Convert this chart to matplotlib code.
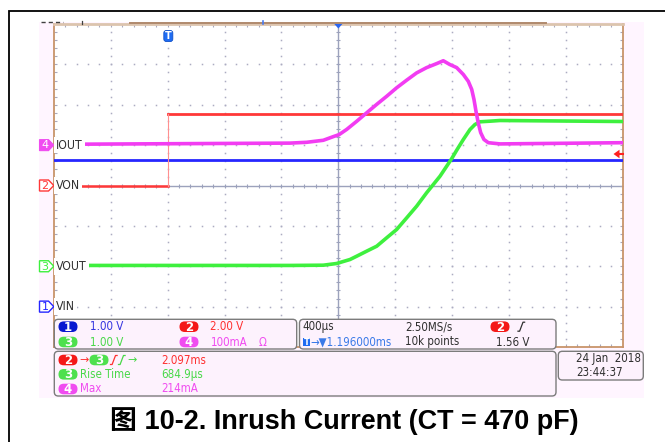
import numpy as np
import matplotlib
matplotlib.use("Agg")
import matplotlib.pyplot as plt
from matplotlib.patches import FancyBboxPatch, Rectangle, Polygon
from matplotlib import font_manager

W, H = 665, 442

# ---------------- scope settings ----------------
time_per_div_ms = 0.4
center_delay_ms = 1.196
n_xdiv, n_ydiv = 10, 8

vin_scale, vin_gnd = 1.0, -3.0      # V/div, ground marker (div)
von_scale, von_gnd = 2.0, 0.0
vout_scale, vout_gnd = 1.0, -2.0
iout_scale, iout_gnd = 100.0, 1.0   # mA/div
trig_level_v = 1.56

# ---------------- waveforms (time in ms from trigger) ----------------
vin_t = [-0.804, 3.196]
vin_v = [3.62, 3.62]

von_edge_ms = 0.0
von_low_v = 0.0
von_high_v = 3.56

vout_t = [-0.804, 0.856, 1.090, 1.184, 1.231, 1.278, 1.325, 1.395, 1.466,
          1.536, 1.606, 1.677, 1.747, 1.817, 1.864, 1.911, 1.958, 1.993,
          2.028, 2.075, 2.122, 2.157, 2.192, 2.263, 2.333, 3.196]
vout_v = [0.02, 0.02, 0.026, 0.068, 0.118, 0.167, 0.249, 0.373, 0.497,
          0.705, 0.910, 1.20, 1.489, 1.82, 2.025, 2.23, 2.478, 2.664,
          2.872, 3.139, 3.387, 3.511, 3.578, 3.593, 3.61, 3.585]

iout_t = [-0.804, 0.856, 0.973, 1.090, 1.160, 1.201, 1.255, 1.325, 1.395,
          1.466, 1.536, 1.606, 1.677, 1.747, 1.817, 1.888, 1.934, 1.978,
          2.028, 2.075, 2.110, 2.134, 2.150, 2.164, 2.180, 2.197, 2.220,
          2.251, 2.333, 3.196]
iout_ma = [2, 5, 7, 12, 21, 26, 39, 59, 80, 101, 121, 142, 161, 179, 192,
           202, 209, 200, 192, 175, 158, 138, 113, 84, 55, 31, 14, 6, 3, 6]

# ---------------- readout text ----------------
ch_names = {1: "VIN", 2: "VON", 3: "VOUT", 4: "IOUT"}
scale_text = {1: "1.00 V", 2: "2.00 V", 3: "1.00 V", 4: "100mA"}
horiz_scale = "400µs"
sample_rate = "2.50MS/s"
delay_text = "→▼1.196000ms"
record_len = "10k points"
trig_text = "1.56 V"
meas_delay = "2.097ms"
meas_rise_label, meas_rise = "Rise Time", "684.9µs"
meas_max_label, meas_max = "Max", "214mA"
date_text, time_text = "24 Jan  2018", "23:44:37"
title = "图 10-2. Inrush Current (CT = 470 pF)"

# ---------------- colours / fonts ----------------
c_trace = {1: "#2626ff", 2: "#ff3838", 3: "#3ef03e", 4: "#f23cf2"}
c_text = {1: "#3434e0", 2: "#ff3030", 3: "#48d848", 4: "#f04cf0"}
c_pill = {1: "#0818d0", 2: "#f41818", 3: "#4ee04e", 4: "#f04cf0"}
dark = "#303030"
pink = "#fff5ff"

names = {f.name for f in font_manager.fontManager.ttflist}
cond_path = font_manager.findfont(
    font_manager.FontProperties(family="DejaVu Sans", stretch="condensed"),
    fallback_to_default=True)
if "Liberation Sans Narrow" in names:
    NARROW = dict(family=["Liberation Sans Narrow", "DejaVu Sans"])
    fs_small, fs_name = 9, 9.5
elif "Condensed" in cond_path:
    NARROW = dict(family=["DejaVu Sans"], fontstretch="condensed")
    fs_small, fs_name = 8.3, 8.8
else:
    NARROW = dict(family=["Liberation Sans", "DejaVu Sans"])
    fs_small, fs_name = 8.3, 8.6

fig = plt.figure(figsize=(W / 100, H / 100), dpi=100)

# background layer in pixel coordinates
bg = fig.add_axes([0, 0, 1, 1], zorder=0)
bg.set_xlim(0, W)
bg.set_ylim(H, 0)
bg.axis("off")
bg.add_patch(Rectangle((39, 22), 605, 376, fc=pink, ec="none"))
bg.plot([9, 9, W + 2], [H + 2, 11, 11], color="black", lw=1.3,
        solid_joinstyle="miter")

# ---------------- scope graticule ----------------
GX0, GX1, GY0, GY1 = 54, 622.7, 24, 347
ax = fig.add_axes([GX0 / W, 1 - GY1 / H, (GX1 - GX0) / W, (GY1 - GY0) / H],
                  zorder=1)
t0 = center_delay_ms - n_xdiv / 2 * time_per_div_ms
t1 = t0 + n_xdiv * time_per_div_ms
ax.set_xlim(t0, t1)
ax.set_ylim(-n_ydiv / 2, n_ydiv / 2)
ax.set_facecolor("white")

xm = t0 + np.arange(1, n_xdiv * 5) * time_per_div_ms / 5
ym = -n_ydiv / 2 + np.arange(1, n_ydiv * 5) * 0.2
ax.set_xticks([])
ax.set_yticks([])
ax.set_xticks(xm, minor=True)
ax.set_yticks(ym, minor=True)
ax.tick_params(which="minor", direction="in", length=2.5, width=0.8,
               color="#a8a8bc", top=True, bottom=True, left=True, right=True,
               labelbottom=False, labelleft=False)
for s in ("left", "right", "bottom"):
    ax.spines[s].set_color("#c8946a")
    ax.spines[s].set_linewidth(1.3)
ax.spines["top"].set_color("#dcc4ae")
ax.spines["top"].set_linewidth(2.0)

grid_c = "#acacc2"
for k in range(1, n_xdiv):
    if k == n_xdiv // 2:
        continue
    xk = t0 + k * time_per_div_ms
    ax.plot(np.full_like(ym, xk), ym, ls="none", marker="s", ms=1.1, mew=0,
            color=grid_c, zorder=1)
for j in range(-n_ydiv // 2 + 1, n_ydiv // 2):
    if j == 0:
        continue
    ax.plot(xm, np.full_like(xm, j), ls="none", marker="s", ms=1.1, mew=0,
            color=grid_c, zorder=1)

axis_c = "#9ca2bc"
ax.axhline(0, color=axis_c, lw=1.0, zorder=1)
ax.axvline(center_delay_ms, color=axis_c, lw=1.0, zorder=1)
ax.plot(xm, np.zeros_like(xm), ls="none", marker="|", ms=3.2, mew=0.8,
        color=axis_c, zorder=1)
ax.plot(np.full_like(ym, center_delay_ms), ym, ls="none", marker="_", ms=3.2,
        mew=0.8, color=axis_c, zorder=1)


def to_div(vals, scale, gnd):
    return np.asarray(vals, dtype=float) / scale + gnd


# ---------------- traces ----------------
ax.plot(vin_t, to_div(vin_v, vin_scale, vin_gnd), color=c_trace[1], lw=2.0,
        zorder=3)
ax.plot([t0, von_edge_ms], to_div([von_low_v] * 2, von_scale, von_gnd),
        color=c_trace[2], lw=1.8, zorder=3)
ax.plot([von_edge_ms, t1], to_div([von_high_v] * 2, von_scale, von_gnd),
        color=c_trace[2], lw=2.0, zorder=3)
ax.plot([von_edge_ms, von_edge_ms],
        to_div([von_low_v, von_high_v], von_scale, von_gnd),
        color="#ff9090", lw=0.8, zorder=3)
ax.plot(vout_t, to_div(vout_v, vout_scale, vout_gnd), color=c_trace[3],
        lw=2.6, zorder=4, solid_joinstyle="round")
ax.plot(iout_t, to_div(iout_ma, iout_scale, iout_gnd), color=c_trace[4],
        lw=2.6, zorder=5, solid_joinstyle="round")

# ---------------- foreground layer ----------------
fg = fig.add_axes([0, 0, 1, 1], zorder=2)
fg.set_xlim(0, W)
fg.set_ylim(H, 0)
fg.axis("off")
fg.patch.set_alpha(0)


def to_px(x, y):
    X, Y = ax.transData.transform((x, y))
    return X, H - Y


# record bar details above the graticule
fg.plot([130, 546], [23, 23], color="#b08a6c", lw=1.4)
fg.plot([41, 63], [22.3, 22.3], color="#404040", lw=1.0, ls=(0, (3, 2.2)))
fg.plot([82.3, 82.3], [20.5, 23.5], color="#404040", lw=0.9)
fg.plot([263, 263], [20.5, 23.5], color="#4a7cf0", lw=1.2)

# centre marker and trigger-position badge
cx_px, _ = to_px(center_delay_ms, 0)
fg.add_patch(Polygon([(cx_px - 4.5, 23.5), (cx_px + 4.5, 23.5),
                      (cx_px, 28.5)], closed=True, fc="#2a66f0", ec="none"))
tx_px, _ = to_px(0.0, 0)
fg.add_patch(FancyBboxPatch((tx_px - 4.5, 30.5), 9, 11,
                            boxstyle="round,pad=0,rounding_size=2.5",
                            fc="#1f6cf2", ec="#1050c8", lw=0.6))
fg.text(tx_px, 36.2, "T", color="white", fontsize=7, fontweight="bold",
        ha="center", va="center", family="DejaVu Sans")

# trigger level arrow (right edge)
_, ty_px = to_px(t1, trig_level_v / von_scale + von_gnd)
fg.add_patch(Polygon([(613.5, ty_px), (619.5, ty_px - 4.3),
                      (619.5, ty_px + 4.3)], closed=True, fc="#ff2020",
                     ec="none"))
fg.plot([618, 622.5], [ty_px, ty_px], color="#ff2020", lw=1.5)

# channel ground markers and names
gnds = {1: vin_gnd, 2: von_gnd, 3: vout_gnd, 4: iout_gnd}
for ch, g in gnds.items():
    _, yc = to_px(t0, g)
    shape = [(39.5, yc - 5.5), (48.5, yc - 5.5), (53.8, yc),
             (48.5, yc + 5.5), (39.5, yc + 5.5)]
    if ch == 4:
        fg.add_patch(Polygon(shape, closed=True, fc=c_pill[4], ec=c_pill[4],
                             lw=0.8))
        num_c = "white"
    else:
        fg.add_patch(Polygon(shape, closed=True, fc="white", ec=c_trace[ch],
                             lw=1.0))
        num_c = c_trace[ch]
    fg.text(45, yc + 0.3, str(ch), color=num_c, fontsize=8, ha="center",
            va="center", family="DejaVu Sans")
    fg.text(56.3, yc, ch_names[ch], color=dark, fontsize=fs_name,
            ha="left", va="center",
            bbox=dict(boxstyle="square,pad=0.15", fc="white", ec="none"),
            **NARROW)


# ---------------- readout boxes ----------------
def box(x0, y0, x1, y1):
    fg.add_patch(FancyBboxPatch((x0, y0), x1 - x0, y1 - y0,
                                boxstyle="round,pad=0,rounding_size=4",
                                fc="#fdf2fd", ec="#7c7c7c", lw=1.0))


def pill(cx, cy, ch):
    fg.add_patch(FancyBboxPatch((cx - 9.5, cy - 5.3), 19, 10.6,
                                boxstyle="round,pad=0,rounding_size=5.3",
                                fc=c_pill[ch], ec="none"))
    fg.text(cx, cy + 0.4, str(ch), color="white", fontsize=8.5,
            fontweight="bold", ha="center", va="center", family="DejaVu Sans")


def label(x, y, s, color):
    fg.text(x, y, s, color=color, fontsize=fs_small, ha="left", va="center",
            **NARROW)


def edge(x, y, color):
    fg.plot([x, x + 1.6, x + 5, x + 6.6], [y + 4.5, y + 4.5, y - 4.5, y - 4.5],
            color=color, lw=0.9)


box(54.3, 319.3, 296.7, 349)
box(299.5, 319.3, 556, 349)
box(54.3, 351.3, 556, 396)
box(558.3, 351.3, 643.3, 380)

r1, r2 = 326.7, 342.0
pill(68, r1, 1)
label(90, r1, scale_text[1], c_text[1])
pill(189, r1, 2)
label(210.5, r1, scale_text[2], c_text[2])
pill(68, r2, 3)
label(90, r2, scale_text[3], c_text[3])
pill(189, r2, 4)
label(210.5, r2, scale_text[4], c_text[4])
label(258.5, r2, "Ω", c_text[4])

label(302.5, r1, horiz_scale, dark)
label(405, r1, sample_rate, dark)
pill(500, r1, 2)
edge(518, r1, dark)
fg.add_patch(Rectangle((302.8, 337.8), 7.6, 8.4, fc="#1f6cf2", ec="none"))
fg.text(306.6, 342.3, "T", color="white", fontsize=6, fontweight="bold",
        ha="center", va="center", family="DejaVu Sans")
label(310.5, r2, delay_text, "#3a7ae8")
label(405, r2, record_len, dark)
label(496, r2, trig_text, dark)

m1, m2, m3 = 360.0, 374.3, 389.0
pill(68, m1, 2)
fg.text(84, m1, "→", color=c_text[2], fontsize=8, ha="center", va="center",
        family="DejaVu Sans")
pill(99, m1, 3)
edge(110.5, m1, c_text[2])
edge(118.5, m1, c_text[3])
fg.text(132, m1, "→", color=c_text[3], fontsize=8, ha="center", va="center",
        family="DejaVu Sans")
label(161, m1, meas_delay, c_text[2])
pill(68, m2, 3)
label(80, m2, meas_rise_label, c_text[3])
label(161, m2, meas_rise, c_text[3])
pill(68, m3, 4)
label(80, m3, meas_max_label, c_text[4])
label(161, m3, meas_max, c_text[4])

label(576.5, 358.7, date_text, dark)
label(576.5, 372.5, time_text, dark)

# ---------------- caption ----------------
fg.text(344, 421, title, fontsize=19.45, fontweight="bold", color="black",
        ha="center", va="center", family=["Liberation Sans", "Noto Sans CJK SC"])

fig.savefig("out.png", dpi=100)
